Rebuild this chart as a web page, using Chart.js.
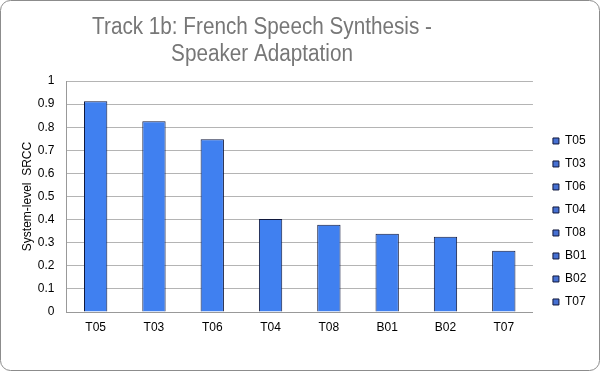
<!DOCTYPE html>
<html>
<head>
<meta charset="utf-8">
<script src="https://cdn.jsdelivr.net/npm/chart.js@4/dist/chart.umd.min.js"></script>
<style>
	html, body { margin: 0; padding: 0; background: #fff; }
	#wrap { width: 600px; height: 371px; position: relative; }
</style>
</head>
<body>
<div id="wrap"><canvas id="tChart"></canvas></div>
<script>
const cLabel = ["T05", "T03", "T06", "T04", "T08", "B01", "B02", "T07"];
const cValue = [0.912, 0.826, 0.748, 0.403, 0.378, 0.339, 0.326, 0.265];
const yTicks = [0, 0.1, 0.2, 0.3, 0.4, 0.5, 0.6, 0.7, 0.8, 0.9, 1];
const titleLines = ["Track 1b: French Speech Synthesis -", "Speaker Adaptation"];

const barColor = "rgb(64, 128, 240)";
const edgeColor = "rgb(16, 24, 60)";

// rounded frame and the two line title (off centre, like the original)
const framePlugin = {
	id: "frame",
	afterDraw(chart) {
		const c = chart.ctx;
		c.save();
		c.strokeStyle = "#8c8c8c";
		c.lineWidth = 1;
		c.beginPath();
		c.roundRect(0.5, 0.5, chart.width - 1, chart.height - 1, 10);
		c.stroke();

		c.fillStyle = "#777";
		c.font = "23px 'Liberation Sans', Arial, sans-serif";
		c.textAlign = "center";
		c.textBaseline = "alphabetic";
		titleLines.forEach(function (t, i) {
			c.save();
			c.translate(262, 33.5 + i * 27);
			c.scale(0.9, 1);
			c.fillText(t, 0, 0);
			c.restore();
		});
		c.restore();
	},
};

Chart.defaults.font.family = "'Liberation Sans', Arial, sans-serif";
Chart.defaults.color = "#000";

const ctx = document.getElementById("tChart");
const myChart = new Chart(ctx, {
	type: "bar",
	data: {
		labels: cLabel,
		datasets: [
			{
				label: "SRCC",
				data: cValue,
				backgroundColor: barColor,
				borderColor: edgeColor,
				borderWidth: 1,
				categoryPercentage: 0.8,
				barPercentage: 0.5,
			},
		],
	},
	options: {
		responsive: true,
		maintainAspectRatio: false,
		animation: false,
		layout: {
			padding: { left: 10, right: 3.7, top: 81, bottom: 28.6 },
		},
		plugins: {
			title: { display: false },
			legend: {
				display: true,
				position: "right",
				title: {
					display: true,
					text: "",
					font: { size: 12, lineHeight: 1.63 },
					padding: 0,
				},
				labels: {
					boxWidth: 6,
					boxHeight: 6,
					padding: 11,
					font: { size: 12 },
					generateLabels: function (chart) {
						return cLabel.map(function (l, i) {
							return {
								text: l,
								fillStyle: "rgb(70, 112, 210)",
								strokeStyle: edgeColor,
								lineWidth: 1,
								index: i,
							};
						});
					},
				},
			},
			tooltip: { enabled: false },
		},
		scales: {
			x: {
				grid: { display: false, drawTicks: false },
				border: { color: "#999" },
				ticks: { padding: 8, font: { size: 12 } },
			},
			y: {
				min: 0,
				max: 1,
				afterFit: function (axis) {
					axis.width = 56.5;
				},
				afterBuildTicks: function (axis) {
					axis.ticks = yTicks.map(function (v) {
						return { value: v };
					});
				},
				ticks: {
					padding: 12,
					font: { size: 12 },
					callback: function (v) {
						return String(Math.round(v * 10) / 10);
					},
				},
				grid: { color: "#b4b4b4", drawTicks: false },
				border: { color: "#999" },
				title: {
					display: true,
					text: "System-level  SRCC",
					font: { size: 12 },
					padding: { top: 10.8, bottom: 0 },
				},
			},
			gap: {
				type: "linear",
				position: "right",
				display: true,
				min: 0,
				max: 1,
				afterFit: function (axis) {
					axis.width = 9;
				},
				ticks: { display: false },
				grid: { display: false, drawTicks: false },
				border: { display: false },
			},
		},
	},
	plugins: [framePlugin],
});
</script>
</body>
</html>
